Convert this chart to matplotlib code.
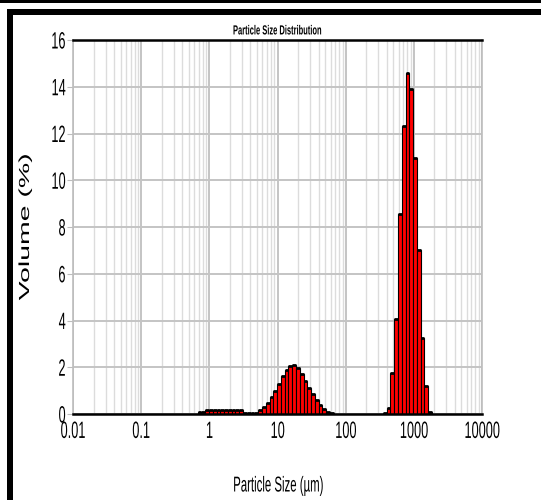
import matplotlib
matplotlib.use("Agg")
import matplotlib.pyplot as plt
from matplotlib.patches import Rectangle
from matplotlib.patheffects import AbstractPathEffect
from matplotlib.transforms import Affine2D
from matplotlib.ticker import FixedLocator, NullFormatter, LogLocator
import numpy as np

# Size-class edges (µm) of the laser diffraction analyser
size_edges = [0.0100, 0.0114, 0.0129, 0.0147, 0.0167, 0.0189, 0.0215, 0.0244, 0.0278, 0.0315,
              0.0358, 0.0407, 0.0463, 0.0526, 0.0597, 0.0679, 0.0771, 0.0876, 0.0995, 0.113,
              0.128, 0.146, 0.166, 0.188, 0.214, 0.243, 0.276, 0.314, 0.357, 0.405,
              0.460, 0.523, 0.594, 0.675, 0.767, 0.872, 0.991, 1.13, 1.28, 1.45,
              1.65, 1.88, 2.13, 2.42, 2.75, 3.12, 3.55, 4.03, 4.58, 5.21,
              5.92, 6.72, 7.64, 8.68, 9.86, 11.2, 12.7, 14.5, 16.4, 18.7,
              21.2, 24.1, 27.4, 31.1, 35.3, 40.1, 45.6, 51.8, 58.9, 66.9,
              76.0, 86.4, 98.1, 111, 127, 144, 163, 186, 211, 240,
              272, 310, 352, 400, 454, 516, 586, 666, 756, 859,
              976, 1110, 1260, 1430, 1630, 1850, 2100, 2390, 2710, 3080, 3500]

# Volume (%) in each size class
volume = [0.00, 0.00, 0.00, 0.00, 0.00, 0.00, 0.00, 0.00, 0.00, 0.00,
          0.00, 0.00, 0.00, 0.00, 0.00, 0.00, 0.00, 0.00, 0.00, 0.00,
          0.00, 0.00, 0.00, 0.00, 0.00, 0.00, 0.00, 0.00, 0.00, 0.00,
          0.00, 0.00, 0.00, 0.08, 0.08, 0.17, 0.17, 0.17, 0.17, 0.17,
          0.17, 0.17, 0.17, 0.17, 0.17, 0.05, 0.05, 0.05, 0.06, 0.15,
          0.30, 0.48, 0.72, 1.00, 1.30, 1.62, 1.88, 2.05, 2.08, 1.95,
          1.70, 1.40, 1.10, 0.85, 0.60, 0.38, 0.20, 0.08, 0.03, 0.00,
          0.00, 0.00, 0.00, 0.00, 0.00, 0.00, 0.00, 0.00, 0.00, 0.00,
          0.00, 0.00, 0.05, 0.26, 1.77, 4.05, 8.57, 12.30, 14.58, 13.90,
          10.95, 7.00, 3.26, 1.20, 0.07, 0.00, 0.00, 0.00, 0.00, 0.00]

x_ticks = [0.01, 0.1, 1, 10, 100, 1000, 10000]
x_tick_labels = ["0.01", "0.1", "1", "10", "100", "1000", "10000"]
y_ticks = [0, 2, 4, 6, 8, 10, 12, 14, 16]


class Stretch(AbstractPathEffect):
    """Scale glyph outlines along the text baseline (condensed / expanded type)."""

    def __init__(self, sx, anchor=0.5):
        super().__init__()
        self.sx = sx
        self.anchor = anchor

    def draw_path(self, renderer, gc, tpath, affine, rgbFace=None):
        ext = tpath.get_extents()
        px = ext.x0 + self.anchor * ext.width
        t = Affine2D().translate(-px, 0).scale(self.sx, 1.0).translate(px, 0)
        renderer.draw_path(gc, tpath, t + affine, rgbFace)


sans = ["Liberation Sans", "DejaVu Sans"]
W, H = 541, 500
fig = plt.figure(figsize=(W / 100, H / 100), dpi=100)
fig.patch.set_facecolor("white")

# page frame bands
for (x0, y0, w, h) in [(0, 0, W, 3), (7, 9, W - 7, 6), (7, 9, 6, H - 9)]:
    fig.patches.append(Rectangle((x0 / W, 1 - (y0 + h) / H), w / W, h / H,
                                 transform=fig.transFigure, facecolor="black",
                                 edgecolor="none", zorder=0))

ax = fig.add_axes([73 / W, 1 - 414 / H, (482 - 73) / W, (414 - 40) / H])
ax.set_xscale("log")
ax.set_xlim(0.01, 10000)
ax.set_ylim(0, 16)

edges = np.array(size_edges)
vals = np.array(volume)
left = edges[:-1]
right = edges[1:]
widths = np.diff(edges)
ax.bar(left, vals, width=widths, align="edge", color="#ff0000",
       edgecolor="black", linewidth=0.8, zorder=3)
nz = vals > 0
ax.hlines(vals[nz], left[nz], right[nz], color="black", linewidth=2.0, zorder=4)

# grid
ax.xaxis.set_major_locator(FixedLocator(x_ticks))
ax.xaxis.set_minor_locator(LogLocator(base=10, subs=np.arange(2, 10)))
ax.xaxis.set_minor_formatter(NullFormatter())
ax.set_xticks(x_ticks)
ax.set_xticklabels(x_tick_labels)
ax.set_yticks(y_ticks)
ax.grid(True, which="major", axis="both", color="#c4c4c4", linewidth=1.4, zorder=0)
ax.grid(True, which="minor", axis="x", color="#dcdcdc", linewidth=1.0, zorder=0)
ax.set_axisbelow(True)

for side in ["left", "right"]:
    ax.spines[side].set_color("#bdbdbd")
    ax.spines[side].set_linewidth(1.2)
for side in ["top", "bottom"]:
    ax.spines[side].set_color("black")
    ax.spines[side].set_linewidth(1.8)
    ax.spines[side].set_zorder(5)

ax.tick_params(axis="both", which="both", length=0)
ax.tick_params(axis="y", which="major", length=4, color="#bdbdbd", pad=1)
ax.tick_params(axis="x", which="major", pad=5)
for lab in ax.get_xticklabels():
    lab.set_family(sans)
    lab.set_fontsize(17)
    lab.set_path_effects([Stretch(0.54, 0.5)])
for lab in ax.get_yticklabels():
    lab.set_family(sans)
    lab.set_fontsize(17)
    lab.set_path_effects([Stretch(0.54, 1.0)])

title = ax.set_title("Particle Size Distribution", family=sans, fontsize=9.5,
                     fontweight="bold", pad=4)
title.set_path_effects([Stretch(0.57)])

xl = fig.text(278 / W, 1 - 486 / H, "Particle Size (µm)", family=sans,
              fontsize=15.5, ha="center", va="center")
xl.set_path_effects([Stretch(0.53)])

yl = fig.text(25 / W, 1 - 227 / H, "Volume (%)", family=sans, fontsize=10.5,
              rotation=90, ha="center", va="center")
yl.set_path_effects([Stretch(1.95)])

fig.savefig("out.png", dpi=100)
